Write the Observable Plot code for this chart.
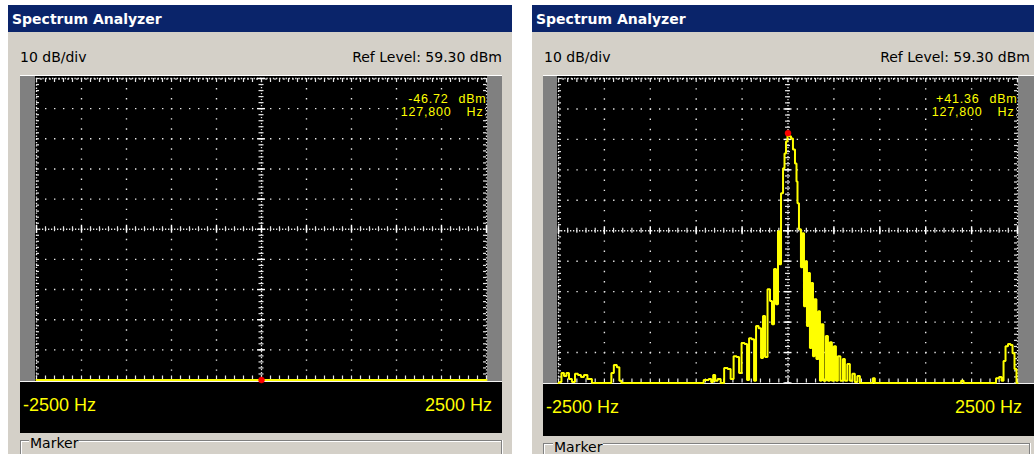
<!DOCTYPE html>
<html>
<head>
<meta charset="utf-8">
<script src="https://cdn.jsdelivr.net/npm/d3@7"></script>
<script src="https://cdn.jsdelivr.net/npm/@observablehq/plot@0.6"></script>
<style>
html,body{margin:0;padding:0;background:#ffffff;}
body{position:relative;width:1034px;height:454px;overflow:hidden;}
.abs{position:absolute;}
svg.scope text{letter-spacing:0.8px;}
</style>
</head>
<body>
<script>
// ---------------- data ----------------
const titleText = "Spectrum Analyzer";
const scaleLabel = "10 dB/div";
const groupLabel = "Marker";
const refLevelDbm = 59.30;
const dbPerDiv = 10;
const spanHz = [-2500, 2500];
const majorHz = [-2500, -2000, -1500, -1000, -500, 0, 500, 1000, 1500, 2000, 2500];
const majorDbm = [59.3, 49.3, 39.3, 29.3, 19.3, 9.3, -0.7, -10.7, -20.7, -30.7, -40.7];

// left panel: no signal (trace sits below the bottom of the screen)
const emptyTraceHz = [-2500, -1250, 0, 1250, 2500];
const emptyTraceDbm = [-47.1, -46.9, -46.72, -47.0, -46.9];

// right panel: carrier at centre
const signalTraceHz = [-2500,-2478,-2457,-2424,-2402,-2370,-2337,-2304,-2272,-2239,-2207,-2163,-2109,-1935,-1913,-1881,-1848,-1826,-1804,
  -957,-880,-848,-826,-804,-783,-750,-717,-674,-641,-609,-576,-544,-522,-489,-457,-435,-413,-380,-359,-337,-304,-283,-261,-239,-207,-185,-163,-141,-120,-98,-87,-65,-43,-33,-11,
  0,22,43,65,87,98,109,130,152,163,185,196,217,228,250,261,283,293,326,337,359,370,402,424,446,467,489,511,533,554,587,609,630,663,685,717,739,772,794,
  913,935,957,1870,1902,1924,2250,2283,2315,2337,2359,2380,2413,2435,2457,2478,2500];
const signalTraceDbm = [-40.7,-40.4,-37.4,-38.4,-37.4,-39.4,-40.4,-37.7,-38.1,-38.7,-38.1,-39.4,-40.7,-40.7,-37.4,-34.8,-35.5,-40.0,-40.7,
  -40.7,-39.7,-39.4,-40.4,-38.1,-40.0,-39.4,-40.7,-35.8,-36.1,-39.4,-31.9,-32.2,-37.4,-27.6,-27.9,-39.7,-26.0,-26.3,-40.0,-22.0,-22.7,-32.5,-18.7,-32.2,-9.9,-13.8,-21.4,-3.3,-14.8,9.1,-1.7,21.6,29.8,34.7,38.6,
  41.36,40.3,39.6,36.0,31.4,25.5,18.3,9.8,-2.7,8.5,-15.5,-0.7,-22.0,-4.6,-29.2,-7.9,-31.9,-13.2,-32.8,-17.1,-40.0,-21.4,-40.0,-25.3,-40.0,-27.3,-40.0,-28.6,-40.0,-31.9,-40.0,-32.8,-40.0,-34.5,-40.0,-37.7,-40.4,-38.4,-40.7,
  -40.7,-39.1,-40.7,-40.7,-40.0,-40.7,-40.7,-39.1,-38.7,-40.0,-33.5,-28.6,-27.9,-28.2,-30.9,-36.1,-40.7];

const markerOffsetHz = [0, 0];
const markerDbm = [-46.72, 41.36];
const markerFreqHz = [127800, 127800];

// ---------------- layout ----------------
const panelBg = "#d4d0c8";
const titleBg = "#0a246a";
const yellow = "#ffff00";
const gridColor = "#e6e6e6";

const geoms = [
  {px0: 8, px1: 512, titleX: 12, divX: 20, refRight: 502,
   barL: [20, 35], plotX: [35, 487], barR: [487, 502], plotY: [76, 381],
   grid: {x0: 36, x1: 486, y0: 78, y1: 379.5}, topLine: [20, 502, 75], botLine: 381,
   band: {x0: 20, x1: 502, y0: 382, y1: 433}, labL: 23, labR: 492, labY: 405,
   grp: {x0: 20, x1: 502, y: 440, tx: 29, ty: 443}},
  {px0: 532, px1: 1040, titleX: 536, divX: 544, refRight: 1030,
   barL: [543, 557], plotX: [557, 1018], barR: [1018, 1040], plotY: [76, 383],
   grid: {x0: 558, x1: 1017, y0: 78, y1: 382.5}, topLine: [543, 1040, 75], botLine: 383,
   band: {x0: 543, x1: 1040, y0: 384, y1: 436}, labL: 546, labR: 1022, labY: 407,
   grp: {x0: 543, x1: 1030, y: 443, tx: 553, ty: 447}}
];

function box(x0, y0, x1, y1, bg) {
  const d = document.createElement("div");
  d.className = "abs";
  d.style.left = x0 + "px"; d.style.top = y0 + "px";
  d.style.width = (x1 - x0) + "px"; d.style.height = (y1 - y0) + "px";
  d.style.background = bg;
  document.body.appendChild(d);
  return d;
}
function label(text, x, yc, css, right) {
  const d = document.createElement("div");
  d.className = "abs";
  d.textContent = text;
  d.style.cssText += css;
  d.style.whiteSpace = "pre";
  d.style.lineHeight = "20px";
  d.style.top = (yc - 10) + "px";
  if (right) d.style.right = (1034 - x) + "px"; else d.style.left = x + "px";
  document.body.appendChild(d);
  return d;
}

function fmtDbm(v) { return (v >= 0 ? "+" : "-") + Math.abs(v).toFixed(2); }

function drawPanel(g, traceHz, traceDbm, mi) {
  // window
  box(g.px0, 5, g.px1, 454, panelBg);
  box(g.px0, 5, g.px1, 32, titleBg);
  label(titleText, g.titleX, 18.5, "color:#fff;font:bold 14px 'DejaVu Sans';");
  label(scaleLabel, g.divX, 57, "color:#000;font:14px 'DejaVu Sans';");
  label(`Ref Level: ${refLevelDbm.toFixed(2)} dBm`, g.refRight, 57, "color:#000;font:14px 'DejaVu Sans';", true);
  box(g.topLine[0], g.topLine[2], g.topLine[1], g.topLine[2] + 1, "#ffffff");
  box(g.barL[0], g.plotY[0], g.barL[1], g.plotY[1], "#808080");
  box(g.barR[0], g.plotY[0], g.barR[1], g.plotY[1], "#808080");
  box(g.plotX[0], g.plotY[0], g.plotX[1], g.plotY[1], "#000000");
  box(g.barL[0], g.botLine, g.band.x1, g.botLine + 1, "#f4f4f4");
  box(g.band.x0, g.band.y0, g.band.x1, g.band.y1, "#000000");
  label(`${spanHz[0]} Hz`, g.labL, g.labY, `color:${yellow};font:18px 'Liberation Sans';`);
  label(`${spanHz[1]} Hz`, g.labR, g.labY, `color:${yellow};font:18px 'Liberation Sans';`, true);
  // group box (etched)
  box(g.grp.x0, g.grp.y, g.grp.x1, g.grp.y + 1, "#808080");
  box(g.grp.x0 + 1, g.grp.y + 1, g.grp.x1, g.grp.y + 2, "#ffffff");
  box(g.grp.x0, g.grp.y, g.grp.x0 + 1, 454, "#808080");
  box(g.grp.x0 + 1, g.grp.y + 1, g.grp.x0 + 2, 454, "#ffffff");
  box(g.grp.x1 - 1, g.grp.y, g.grp.x1, 454, "#808080");
  box(g.grp.x1, g.grp.y, g.grp.x1 + 1, 454, "#ffffff");
  label(groupLabel, g.grp.tx, g.grp.ty, `color:#000;font:14px 'DejaVu Sans';background:${panelBg};padding:0 1px;`);

  // scope screen
  const W = g.plotX[1] - g.plotX[0];
  const top = g.plotY[0];
  const H = Math.ceil(g.grid.y1 - top + 3);
  const ml = g.grid.x0 - g.plotX[0], mr = g.plotX[1] - g.grid.x1;
  const mt = g.grid.y0 - top, mb = H - (g.grid.y1 - top);
  const pxPerDb = (g.grid.y1 - g.grid.y0) / (majorDbm[0] - majorDbm[majorDbm.length - 1]);
  const pxPerHz = (g.grid.x1 - g.grid.x0) / (spanHz[1] - spanHz[0]);
  const perY = (g.grid.y1 - g.grid.y0) / 30; // dot pitch on vertical lines
  const perX = (g.grid.x1 - g.grid.x0) / 50; // dot pitch on horizontal lines
  const dbTop = majorDbm[0], dbBot = majorDbm[majorDbm.length - 1], dbMid = majorDbm[5];
  const hz = px => px / pxPerHz, db = px => px / pxPerDb;

  const innerHz = majorHz.filter(h => h !== 0 && Math.abs(h) !== 2500);
  const innerDb = majorDbm.filter(v => v !== dbMid && v !== dbTop && v !== dbBot);
  const minorHz = d3.range(spanHz[0], spanHz[1] + 1, 100);
  const halfHz = d3.range(spanHz[0] + 50, spanHz[1], 100);
  const minorDb = d3.range(0, 51).map(i => dbTop - i * 2);
  const readout = {frameAnchor: "top-right", textAnchor: "end", lineAnchor: "top", fill: yellow, stroke: "#000000", strokeWidth: 3, fontSize: 12.5};

  const marks = [
    Plot.ruleX(innerHz, {stroke: gridColor, strokeWidth: 1.4, strokeDasharray: `1.4 ${perY - 1.4}`}),
    Plot.ruleY(innerDb, {stroke: gridColor, strokeWidth: 1.4, strokeDasharray: `1.4 ${perX - 1.4}`}),
    // screen edges
    Plot.ruleX([spanHz[0], spanHz[1]], {stroke: gridColor, strokeWidth: 1.3, strokeDasharray: "1.3 1.9"}),
    Plot.ruleY([dbTop], {stroke: gridColor, strokeWidth: 1.3, strokeDasharray: "1.3 1.9"}),
    Plot.ruleX(minorHz, {y1: dbTop, y2: dbTop - db(4), stroke: gridColor, strokeWidth: 1.2}),
    Plot.ruleX(halfHz, {y1: dbTop, y2: dbTop - db(2), stroke: gridColor, strokeWidth: 1.2}),
    Plot.ruleX(minorHz, {y1: dbBot, y2: dbBot + db(4), stroke: gridColor, strokeWidth: 1.2}),
    Plot.ruleY(minorDb, {x1: spanHz[0], x2: spanHz[0] + hz(3), stroke: gridColor, strokeWidth: 1.2}),
    Plot.ruleY(minorDb, {x1: spanHz[1], x2: spanHz[1] - hz(3), stroke: gridColor, strokeWidth: 1.2}),
    // centre crosshair
    Plot.ruleX([0], {stroke: gridColor, strokeWidth: 1.3, strokeDasharray: "1.3 1.7"}),
    Plot.ruleY([dbMid], {stroke: gridColor, strokeWidth: 1.3, strokeDasharray: "1.3 1.7"}),
    Plot.ruleY(minorDb, {x1: -hz(2.5), x2: hz(2.5), stroke: gridColor, strokeWidth: 1.2}),
    Plot.ruleY(majorDbm, {x1: -hz(4), x2: hz(4), stroke: "#ffffff", strokeWidth: 1.4}),
    Plot.ruleX(minorHz, {y1: dbMid - db(2.5), y2: dbMid + db(2.5), stroke: gridColor, strokeWidth: 1.2}),
    Plot.ruleX(majorHz, {y1: dbMid - db(4), y2: dbMid + db(4), stroke: "#ffffff", strokeWidth: 1.4}),
    // trace
    Plot.line(traceDbm, {x: traceHz, y: traceDbm, stroke: yellow, strokeWidth: 2, curve: "step", strokeLinejoin: "miter"}),
    // marker
    Plot.dot([markerDbm[mi]], {x: markerOffsetHz[mi], y: d => d, r: 3, fill: "#ff0000", stroke: "#ff0000", strokeWidth: 0.5}),
    // marker readout box, value column and unit column
    Plot.rect([markerDbm[mi]], {x1: spanHz[1] - hz(86), x2: spanHz[1] - hz(1), y1: dbTop - db(14), y2: dbTop - db(41), fill: "#000000"}),
    Plot.text([markerDbm[mi]], {...readout, text: d => fmtDbm(d), dy: 16, dx: -38}),
    Plot.text([markerDbm[mi]], {...readout, text: () => "dBm", dy: 16, dx: 0}),
    Plot.text([markerFreqHz[mi]], {...readout, text: d => d3.format(",")(d), dy: 29, dx: -35}),
    Plot.text([markerFreqHz[mi]], {...readout, text: () => "Hz", dy: 29, dx: -3})
  ];

  const svg = Plot.plot({
    width: W, height: H,
    marginLeft: ml, marginRight: mr, marginTop: mt, marginBottom: mb,
    x: {domain: spanHz, axis: null},
    y: {domain: [dbBot, dbTop], axis: null, clamp: true},
    style: {background: "transparent", overflow: "visible", fontFamily: "'Liberation Sans'", fontSize: "12.5px"},
    marks
  });
  svg.classList.add("scope");
  svg.style.position = "absolute";
  svg.style.left = g.plotX[0] + "px";
  svg.style.top = top + "px";
  document.body.appendChild(svg);
}

drawPanel(geoms[0], emptyTraceHz, emptyTraceDbm, 0);
drawPanel(geoms[1], signalTraceHz, signalTraceDbm, 1);
</script>
</body>
</html>
